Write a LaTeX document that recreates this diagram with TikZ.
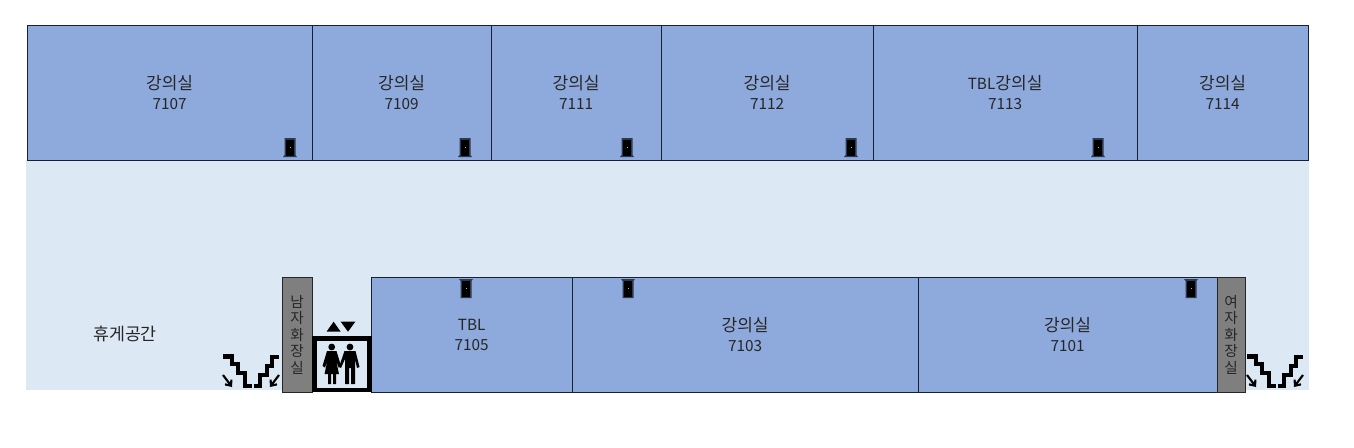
\documentclass[tikz,border=0pt]{standalone}
\usepackage{fontspec}
\setmainfont{Noto Sans CJK KR}
\usetikzlibrary{arrows.meta}
\definecolor{roomblue}{HTML}{8EA9DB}
\definecolor{hallblue}{HTML}{DDE8F5}
\definecolor{wcgray}{HTML}{7F7F7F}
\definecolor{edgeblue}{HTML}{18202F}
\definecolor{doorgray}{HTML}{2C3A50}
\newcommand{\lat}[1]{{\fontsize{11.5}{15}\selectfont #1}}
\tikzset{
	room/.style={draw=edgeblue,fill=roomblue,line width=0.9pt,anchor=north west,inner sep=0,align=center,
		xshift=-0.35pt,yshift=0.35pt,font=\fontsize{12.8}{15}\selectfont,text=black!85},
	wc/.style={draw=black!85,fill=wcgray,line width=0.9pt,anchor=north west,inner sep=0,align=center,
		xshift=-0.35pt,yshift=0.35pt,font=\fontsize{11}{12.4}\selectfont,text=black!85},
	pics/door/.style={code={
		\fill [doorgray] (-7,9.5) -- (-5.5,7.5) -- (-5.5,-9.5) -- (5.5,-9.5) -- (5.5,7.5) -- (7,9.5) -- cycle;
		\fill [black] (-3.6,8) rectangle (3.6,-8);
		\fill [white!70!black] (0,-0.5) rectangle (1.2,0.7);
	}},
	pics/stairs/.style={code={
		\draw [line width=3.7pt,line join=miter] (223,356.5) -- (232,356.5) -- (232,364) -- (238,364) -- (238,373) -- (245,373) -- (245,386) -- (252,386);
		\draw [line width=3.7pt,line join=miter] (254,386) -- (260,386) -- (260,375) -- (267,375) -- (267,366) -- (272,366) -- (272,357) -- (279,357);
		\draw [line width=1.6pt,-{Straight Barb[length=3.5pt,width=6pt]}] (223,375) -- (232,387);
		\draw [line width=1.6pt,-{Straight Barb[length=3.5pt,width=6pt]}] (279,375) -- (270,387);
	}}
}
\begin{document}
\begin{tikzpicture}[x=0.75pt,y=-0.75pt]
	\useasboundingbox (0,0) rectangle (1354,447);
	\fill [hallblue] (26,160) rectangle (1309,390);

	% upper rooms
	\foreach \x/\w/\n/\t in {27/285/7107/강의실,312/179/7109/강의실,491/170/7111/강의실,661/212/7112/강의실,873/264/7113/\lat{TBL}강의실,1137/171/7114/강의실}{
		\node [room,minimum width=\w*0.75pt,minimum height=135*0.75pt] at (\x,25) (room \n) {\t\\\lat{\n}};
	}
	% lower rooms
	\foreach \x/\w/\n/\t in {371/201/7105/\lat{TBL},572/346/7103/강의실,918/299/7101/강의실}{
		\node [room,minimum width=\w*0.75pt,minimum height=115*0.75pt] at (\x,277) (room \n) {\t\\\lat{\n}};
	}

	\node [wc,minimum width=30*0.75pt,minimum height=115*0.75pt] at (282,277) (wc men) {남\\자\\화\\장\\실};
	\node [wc,minimum width=28*0.75pt,minimum height=115*0.75pt] at (1217,277) (wc women) {여\\자\\화\\장\\실};

	\node [font=\fontsize{13}{15}\selectfont,text=black!85] at (125,334) (lounge) {휴게공간};

	% doors
	\foreach \x in {290,465,627,851,1098}{
		\pic at (\x,147.5) {door};
	}
	\foreach \x in {466,628,1191}{
		\pic [yscale=-1] at (\x,288.5) {door};
	}

	% stairs
	\pic {stairs};
	\pic at (1024,0) {stairs};

	% elevator
	\draw [line width=3.2pt,fill=hallblue] (314.5,338.5) rectangle (369.5,390);
	\fill (326.5,331.7) -- (340.7,331.7) -- (333.6,321.7) -- cycle;
	\fill (340.7,321.7) -- (355.3,321.7) -- (348,331.7) -- cycle;
	% woman
	\fill (331.7,347) circle (3.4);
	\fill (327,351) -- (336.5,351) -- (341,366) -- (338.5,367.5) -- (336,360) -- (339,374) -- (336,374) -- (336,384) -- (333,384) -- (333,374) -- (331,374) -- (331,384) -- (328,384) -- (328,374) -- (324.5,374) -- (327.5,360) -- (325,367.5) -- (322.5,366) -- cycle;
	% man
	\fill (350,347) circle (3.4);
	\fill (344.5,351) -- (355.5,351) -- (359.5,367) -- (357,368) -- (355,359) -- (355,384) -- (351,384) -- (351,368) -- (349,368) -- (349,384) -- (345,384) -- (345,359) -- (341,368) -- (339,367) -- cycle;
\end{tikzpicture}
\end{document}
